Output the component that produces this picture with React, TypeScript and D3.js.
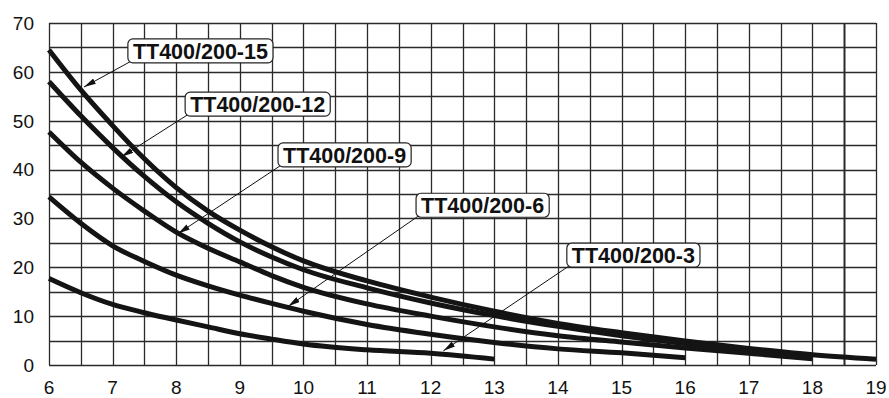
import { useEffect, useRef } from "react";
import * as d3 from "d3";

// axis ticks
const xTicks = [6, 7, 8, 9, 10, 11, 12, 13, 14, 15, 16, 17, 18, 19];
const yTicks = [0, 10, 20, 30, 40, 50, 60, 70];

// curves
const flow15 = [6, 6.5, 7, 7.5, 8, 8.5, 9, 9.5, 10, 11, 12, 13, 14, 15, 16, 17, 18, 19];
const head15 = [64.5, 56.3, 49, 42.2, 36.3, 31.5, 27.6, 24.2, 21.3, 17.2, 13.9, 11, 8.5, 6.6, 4.9, 3.4, 2.1, 1.2];
const flow12 = [6, 6.5, 7, 7.5, 8, 8.5, 9, 9.5, 10, 11, 12, 13, 14, 15, 16, 17, 18];
const head12 = [58, 51, 44.5, 38.6, 33.4, 29, 25.2, 22.1, 19.5, 15.8, 12.7, 10.1, 7.9, 6, 4.4, 3, 1.6];
const flow9 = [6, 6.5, 7, 7.5, 8, 8.5, 9, 9.5, 10, 11, 12, 13, 14, 15, 16, 17, 18];
const head9 = [47.7, 41.5, 36.2, 31.5, 27.2, 23.9, 21.1, 18.3, 15.9, 12.5, 10, 7.8, 6, 4.7, 3.5, 2.4, 1.3];
const flow6 = [6, 6.5, 7, 7.5, 8, 8.5, 9, 9.5, 10, 11, 12, 13, 14, 15, 16];
const head6 = [34.4, 29, 24.4, 21.2, 18.4, 16.2, 14.3, 12.6, 11, 8.3, 6.3, 4.6, 3.3, 2.5, 1.5];
const flow3 = [6, 6.5, 7, 7.5, 8, 8.5, 9, 9.5, 10, 11, 12, 13];
const head3 = [17.7, 14.8, 12.4, 10.7, 9.2, 7.8, 6.4, 5.3, 4.3, 3.1, 2.4, 1.2];

const seriesNames = ["TT400/200-15", "TT400/200-12", "TT400/200-9", "TT400/200-6", "TT400/200-3"];
const seriesFlows = [flow15, flow12, flow9, flow6, flow3];
const seriesHeads = [head15, head12, head9, head6, head3];
// label box (left edge and vertical centre, data coords) and arrow tip
const labelX = [7.24, 8.14, 9.6, 11.77, 14.14];
const labelY = [64.3, 53.4, 43, 32.7, 22.5];
const tipX = [6.55, 7.14, 8.03, 9.76, 12.2];
const tipY = [56.9, 42.6, 26.9, 12, 2.9];

export default function App() {
  const ref = useRef<SVGSVGElement>(null);

  useEffect(() => {
    if (!ref.current) return;
    const svg = d3.select(ref.current);
    svg.selectAll("*").remove();

    const x = d3.scaleLinear().domain([6, 19]).range([49, 876]);
    const y = d3.scaleLinear().domain([0, 70]).range([365, 23]);
    const font = "Arial, 'Liberation Sans', sans-serif";

    const defs = svg.append("defs");
    defs.append("marker")
      .attr("id", "tip")
      .attr("viewBox", "0 0 12 6")
      .attr("refX", 12).attr("refY", 3)
      .attr("markerWidth", 12).attr("markerHeight", 6)
      .attr("markerUnits", "userSpaceOnUse")
      .attr("orient", "auto")
      .append("path")
      .attr("d", "M0,0 L12,3 L0,6 Z")
      .attr("fill", "#111");

    // grid, every half unit on x and every 5 on y
    const grid = svg.append("g").attr("stroke", "#2a2a2a").attr("stroke-width", 1.3);
    grid.selectAll("line.v")
      .data(d3.range(6, 19.01, 0.5))
      .join("line")
      .attr("x1", (d) => Math.round(x(d)) + 0.5).attr("x2", (d) => Math.round(x(d)) + 0.5)
      .attr("y1", y(70)).attr("y2", y(0))
      .attr("stroke-width", (d) => (d === 18.5 ? 2 : 1.3));
    grid.selectAll("line.h")
      .data(d3.range(0, 70.01, 5))
      .join("line")
      .attr("y1", (d) => Math.round(y(d)) + 0.5).attr("y2", (d) => Math.round(y(d)) + 0.5)
      .attr("x1", x(6)).attr("x2", x(19));

    // tick labels
    svg.append("g").selectAll("text")
      .data(yTicks)
      .join("text")
      .attr("x", 34).attr("y", (d) => y(d))
      .attr("dy", "0.36em")
      .attr("text-anchor", "end")
      .attr("font-family", font).attr("font-size", 19).attr("fill", "#111")
      .text((d) => d);
    svg.append("g").selectAll("text")
      .data(xTicks)
      .join("text")
      .attr("x", (d) => x(d)).attr("y", 394)
      .attr("text-anchor", "middle")
      .attr("font-family", font).attr("font-size", 19).attr("fill", "#111")
      .text((d) => d);

    // curves
    const line = d3.line<[number, number]>()
      .x((d) => x(d[0]))
      .y((d) => y(d[1]))
      .curve(d3.curveMonotoneX);
    svg.append("g").selectAll("path")
      .data(seriesFlows.map((f, i) => f.map((v, j) => [v, seriesHeads[i][j]] as [number, number])))
      .join("path")
      .attr("d", (d) => line(d))
      .attr("fill", "none")
      .attr("stroke", "#141414")
      .attr("stroke-width", 5);

    // labels with leader arrows
    const lab = svg.append("g").selectAll("g")
      .data(seriesNames)
      .join("g");
    lab.append("line")
      .attr("x1", (_d, i) => x(labelX[i]) + 2)
      .attr("y1", (_d, i) => y(labelY[i]) + 11)
      .attr("x2", (_d, i) => x(tipX[i]))
      .attr("y2", (_d, i) => y(tipY[i]))
      .attr("stroke", "#111")
      .attr("stroke-width", 1)
      .attr("marker-end", "url(#tip)");
    const txt = lab.append("text")
      .attr("x", (_d, i) => x(labelX[i]) + 5)
      .attr("y", (_d, i) => y(labelY[i]))
      .attr("dy", "0.36em")
      .attr("font-family", font).attr("font-size", 21.5).attr("font-weight", "bold")
      .attr("fill", "#111")
      .text((d) => d);
    lab.insert("rect", "text")
      .each(function (_d, i) {
        const t = (txt.nodes()[i] as SVGTextElement).getBBox();
        d3.select(this)
          .attr("x", x(labelX[i]))
          .attr("y", y(labelY[i]) - 12)
          .attr("width", t.width + 10)
          .attr("height", 24);
      })
      .attr("rx", 5)
      .attr("fill", "#fff")
      .attr("stroke", "#222")
      .attr("stroke-width", 1.2);
  }, []);

  return (
    <svg
      ref={ref}
      width={889}
      height={398}
      style={{ position: "absolute", left: 0, top: 0, background: "#fff" }}
    />
  );
}
